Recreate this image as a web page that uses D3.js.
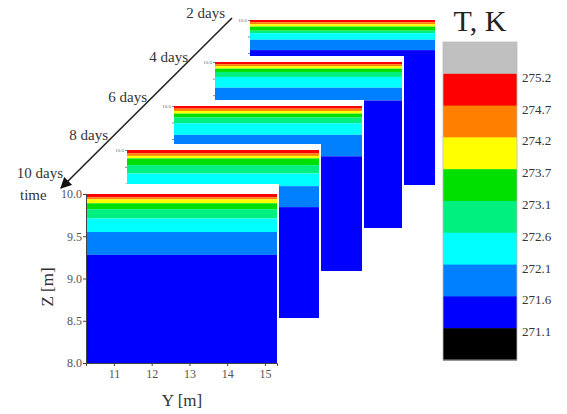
<!DOCTYPE html>
<html><head><meta charset="utf-8">
<script src="https://cdn.jsdelivr.net/npm/d3@7"></script>
<style>body{margin:0;background:#fff}svg{display:block}text{font-family:"Liberation Serif","Times New Roman",serif}</style>
</head><body><svg id="c" width="567" height="414"></svg>
<script>
// ---- data ----
const dayLabels = ["2 days", "4 days", "6 days", "8 days", "10 days"];
const legendLevels = ["275.2", "274.7", "274.2", "273.7", "273.1", "272.6", "272.1", "271.6", "271.1"];
const legendColors = ["#c0c0c0", "#ff0000", "#ff8000", "#ffff00", "#00e000", "#00f080", "#00ffff", "#0080ff", "#0000ff", "#000000"];
// lower Z boundary [m] of the red, orange, yellow, green, spring, cyan, azure bands (blue below)
const zDay2  = [9.973, 9.949, 9.920, 9.870, 9.840, 9.760, 9.635];
const zDay4  = [9.973, 9.952, 9.920, 9.880, 9.820, 9.690, 9.536];
const zDay6  = [9.968, 9.940, 9.908, 9.860, 9.790, 9.650, 9.390];
const zDay8  = [9.960, 9.930, 9.900, 9.820, 9.720, 9.570, 9.320];
const zDay10 = [9.960, 9.937, 9.890, 9.820, 9.710, 9.550, 9.280];
const zTicks = [8.0, 8.5, 9.0, 9.5, 10.0];
const yTicks = [11, 12, 13, 14, 15];
const zDomain = [8, 10];
const yDomain = [10.26, 15.32];

const svg = d3.select("#c");
const panels = [
  {label: dayLabels[0], z: zDay2,  x: 250, y: 20,  w: 185, h: 165, top: 6,  front: false},
  {label: dayLabels[1], z: zDay4,  x: 215, y: 62,  w: 187, h: 166, top: 6,  front: false},
  {label: dayLabels[2], z: zDay6,  x: 174, y: 106, w: 188, h: 165, top: 6,  front: false},
  {label: dayLabels[3], z: zDay8,  x: 127, y: 150, w: 192, h: 168, top: 6,  front: false},
  {label: dayLabels[4], z: zDay10, x: 86,  y: 194, w: 191, h: 169, top: 10, front: true}
];

panels.forEach(p => {
  const zs = d3.scaleLinear().domain(zDomain).range([p.y + p.h, p.y]);
  const ys = d3.scaleLinear().domain(yDomain).range([p.x, p.x + p.w]);
  const g = svg.append("g");
  g.append("rect").attr("x", p.x - 3).attr("y", p.y - p.top)
    .attr("width", p.w + 5).attr("height", p.h + p.top + 2).attr("fill", "#fff");
  const uppers = [zDomain[1], ...p.z];
  const lowers = [...p.z, zDomain[0]];
  g.selectAll("rect.band").data(uppers.map((u, i) => ({u, l: lowers[i], c: legendColors[i + 1]})))
    .join("rect").attr("class", "band")
    .attr("x", ys(yDomain[0])).attr("width", ys(yDomain[1]) - ys(yDomain[0]))
    .attr("y", d => zs(d.u)).attr("height", d => zs(d.l) - zs(d.u))
    .attr("fill", d => d.c);
  if (p.front) {
    const ax = g.append("g").attr("transform", `translate(${p.x},0)`)
      .call(d3.axisLeft(zs).tickValues(zTicks).tickFormat(d3.format(".1f")).tickSize(3).tickPadding(1));
    ax.selectAll("text").attr("font-size", 12).attr("fill", "#555").style("font-family", '"Liberation Serif",serif');
    ax.selectAll("line,path").attr("stroke", "#444");
    const bx = g.append("g").attr("transform", `translate(0,${p.y + p.h})`)
      .call(d3.axisBottom(ys).tickValues(yTicks).tickFormat(d3.format("d")).tickSize(3).tickPadding(3));
    bx.selectAll("text").attr("font-size", 12).attr("fill", "#555").style("font-family", '"Liberation Serif",serif');
    bx.selectAll("line,path").attr("stroke", "#444");
  } else {
    const ax = g.append("g").attr("transform", `translate(${p.x},0)`)
      .call(d3.axisLeft(zs).ticks(8).tickFormat(d => d === 10 ? "10.0" : "").tickSize(2).tickPadding(1));
    ax.selectAll("text").attr("font-size", 5).attr("fill", "#666").style("font-family", '"Liberation Serif",serif');
    ax.selectAll("line").attr("stroke", "#888");
    ax.select("path").attr("stroke", "none");
  }
});

// day labels and time arrow
const labelPos = [[225, 18], [188, 62], [147, 102], [108, 140], [63, 178]];
svg.selectAll("text.day").data(dayLabels).join("text").attr("class", "day")
  .attr("x", (d, i) => labelPos[i][0]).attr("y", (d, i) => labelPos[i][1])
  .attr("text-anchor", "end").attr("font-size", 15).attr("fill", "#333").text(d => d);
svg.append("text").attr("x", 20).attr("y", 200).attr("font-size", 15).attr("fill", "#333").text("time");

svg.append("defs").append("marker").attr("id", "ah").attr("viewBox", "0 0 10 10")
  .attr("refX", 9).attr("refY", 5).attr("markerWidth", 7).attr("markerHeight", 7)
  .attr("markerUnits", "strokeWidth").attr("orient", "auto")
  .append("path").attr("d", "M0,0 L10,5 L0,10 z").attr("fill", "#111");
svg.append("line").attr("x1", 232).attr("y1", 18).attr("x2", 61).attr("y2", 188)
  .attr("stroke", "#222").attr("stroke-width", 1.6).attr("marker-end", "url(#ah)");

// axis titles
svg.append("text").attr("x", 182).attr("y", 406).attr("text-anchor", "middle")
  .attr("font-size", 17).attr("fill", "#333").text("Y [m]");
svg.append("text").attr("transform", "translate(53,287) rotate(-90)").attr("text-anchor", "middle")
  .attr("font-size", 17).attr("fill", "#333").text("Z [m]");

// legend
const lx = 443, lw = 74;
const ls = d3.scaleBand().domain(d3.range(legendColors.length)).range([42, 360]);
svg.selectAll("rect.leg").data(legendColors).join("rect").attr("class", "leg")
  .attr("x", lx).attr("width", lw).attr("y", (d, i) => ls(i)).attr("height", ls.bandwidth() + 0.5)
  .attr("fill", d => d);
svg.append("rect").attr("x", lx).attr("y", 42).attr("width", lw).attr("height", 318)
  .attr("fill", "none").attr("stroke", "#bbb").attr("stroke-width", 0.8);
svg.selectAll("text.lev").data(legendLevels).join("text").attr("class", "lev")
  .attr("x", 522).attr("y", (d, i) => ls(i + 1) + 8).attr("font-size", 13).attr("fill", "#333").text(d => d);
svg.append("text").attr("x", 480).attr("y", 31).attr("text-anchor", "middle")
  .attr("font-size", 30).attr("fill", "#222").text("T, K");
</script></body></html>
